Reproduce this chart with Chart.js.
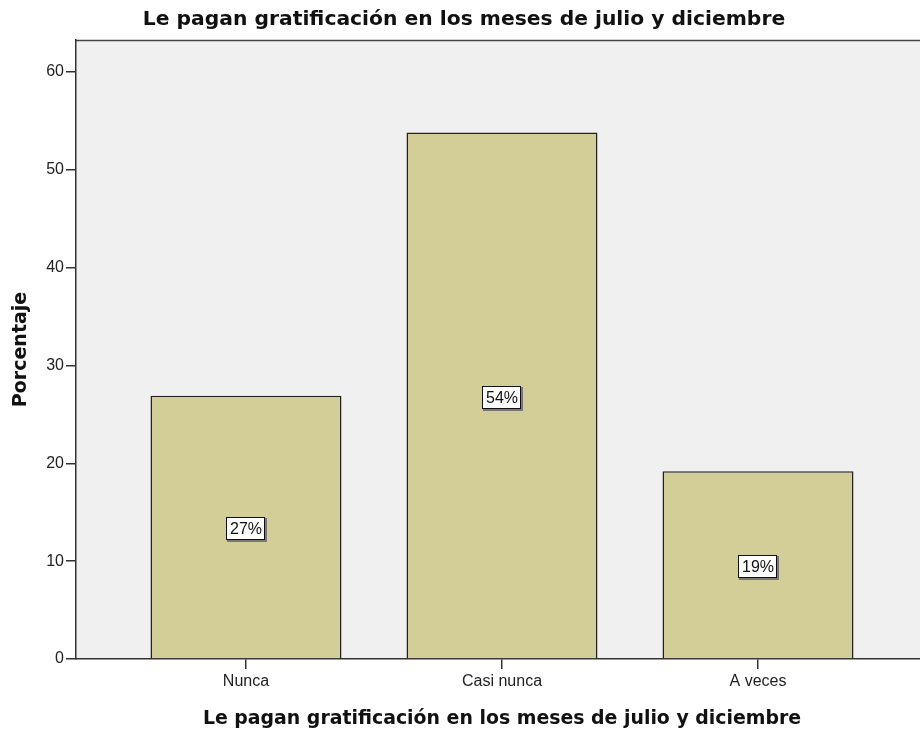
<!DOCTYPE html>
<html><head><meta charset="utf-8">
<script src="https://cdn.jsdelivr.net/npm/chart.js@4"></script>
<style>html,body{margin:0;padding:0;background:#fff;overflow:hidden;width:920px;height:729px}</style>
</head><body><canvas id="c" width="928" height="729"></canvas>
<script>
const chartTitle = 'Le pagan gratificación en los meses de julio y diciembre';
const xAxisTitle = 'Le pagan gratificación en los meses de julio y diciembre';
const yAxisTitle = 'Porcentaje';
const categories = ['Nunca', 'Casi nunca', 'A veces'];
const percentValues = [26.9, 53.8, 19.2];
const valueLabels = ['27%', '54%', '19%'];
const yTickValues = [0, 10, 20, 30, 40, 50, 60];

const FONT = "'Liberation Sans', Arial, sans-serif";
const BOLD = "'DejaVu Sans', Verdana, sans-serif";

const bgPlugin = {
  id: 'bg',
  beforeDraw(chart) {
    const {ctx, chartArea: a} = chart;
    ctx.save();
    ctx.fillStyle = '#f0f0f0';
    ctx.fillRect(a.left, a.top, a.right - a.left, a.bottom - a.top);
    ctx.strokeStyle = '#444';
    ctx.lineWidth = 1.5;
    ctx.beginPath();
    ctx.moveTo(a.left, a.top + 0.5);
    ctx.lineTo(a.right, a.top + 0.5);
    ctx.stroke();
    ctx.restore();
  }
};

const labelPlugin = {
  id: 'vlabels',
  afterDatasetsDraw(chart) {
    const {ctx} = chart;
    const meta = chart.getDatasetMeta(0);
    const ys = chart.scales.y;
    ctx.save();
    ctx.font = '16px ' + FONT;
    ctx.textAlign = 'center';
    ctx.textBaseline = 'middle';
    meta.data.forEach((el, i) => {
      const txt = valueLabels[i];
      const cx = Math.round(el.x);
      const cy = Math.round(ys.getPixelForValue(percentValues[i] / 2)) + 2;
      const w = Math.round(ctx.measureText(txt).width + 7);
      const h = 23;
      const x0 = cx - Math.round(w / 2), y0 = cy - Math.round(h / 2);
      ctx.fillStyle = '#777';
      ctx.fillRect(x0 + 1, y0 + 1, w + 1, h + 1);
      ctx.fillStyle = '#fff';
      ctx.fillRect(x0, y0, w, h);
      ctx.strokeStyle = '#111';
      ctx.lineWidth = 1;
      ctx.strokeRect(x0 + 0.5, y0 + 0.5, w - 1, h - 1);
      ctx.fillStyle = '#111';
      ctx.fillText(txt, cx, cy + 1);
    });
    ctx.restore();
  }
};

new Chart(document.getElementById('c'), {
  type: 'bar',
  data: {
    datasets: [{
      data: percentValues.map((v, i) => ({x: i, y: v})),
      backgroundColor: '#d3ce97',
      borderColor: '#222',
      borderWidth: 1.5,
      barPercentage: 0.746,
      categoryPercentage: 1
    }]
  },
  options: {
    responsive: false,
    animation: false,
    layout: {padding: {top: 0, left: 0, right: 0, bottom: 0}},
    plugins: {
      legend: {display: false},
      tooltip: {enabled: false},
      title: {
        display: true, text: chartTitle, color: '#111',
        font: {family: BOLD, size: 20.3, weight: 'bold', lineHeight: 1.2},
        padding: {top: 8, bottom: 7.6}
      }
    },
    scales: {
      x: {
        type: 'linear', min: -0.664, max: 2.664, offset: false,
        afterBuildTicks: s => { s.ticks = categories.map((c, i) => ({value: i})); },
        afterFit: s => { s.height = 70; },
        ticks: {
          callback: v => categories[v], color: '#222',
          font: {family: FONT, size: 16}, padding: 3, maxRotation: 0, autoSkip: false
        },
        grid: {offset: false, drawOnChartArea: false, drawTicks: true, tickLength: 10, color: '#333', lineWidth: 1.5},
        border: {display: true, color: '#333', width: 1.5},
        title: {
          display: true, text: xAxisTitle, color: '#111',
          font: {family: BOLD, size: 18.9, weight: 'bold', lineHeight: 1},
          padding: {top: 3, bottom: 0}
        }
      },
      y: {
        min: 0, max: 63.27,
        afterBuildTicks: s => { s.ticks = yTickValues.map(v => ({value: v})); },
        afterFit: s => { s.width = 76; },
        ticks: {color: '#222', font: {family: FONT, size: 16}, padding: 2},
        grid: {drawOnChartArea: false, drawTicks: true, tickLength: 10, color: '#333', lineWidth: 1.5},
        border: {display: true, color: '#333', width: 1.5},
        title: {
          display: true, text: yAxisTitle, color: '#111',
          font: {family: BOLD, size: 19, weight: 'bold', lineHeight: 1},
          padding: {top: 11.5, bottom: 0}
        }
      }
    }
  },
  plugins: [bgPlugin, labelPlugin]
});
</script>
</body></html>
